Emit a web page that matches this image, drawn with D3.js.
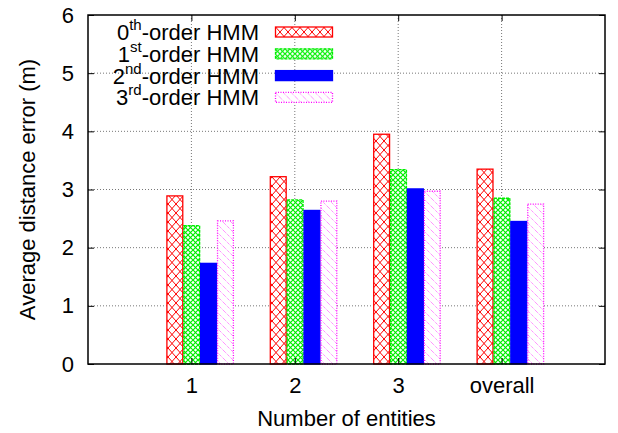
<!DOCTYPE html>
<html>
<head>
<meta charset="utf-8">
<script src="https://cdn.jsdelivr.net/npm/d3@7"></script>
<style>
  body { margin: 0; background: #fff; }
  text { font-family: "Liberation Sans", Arial, sans-serif; fill: #000; }
</style>
</head>
<body>
<div id="chart"></div>
<script>
// data
const categories = ["1", "2", "3", "overall"];
const seriesNames = ["0", "1", "2", "3"];
const seriesSup = ["th", "st", "nd", "rd"];
const order0 = [2.89, 3.22, 3.95, 3.35];
const order1 = [2.38, 2.82, 3.34, 2.85];
const order2 = [1.73, 2.64, 3.01, 2.45];
const order3 = [2.46, 2.80, 2.97, 2.75];
const yTicks = [0, 1, 2, 3, 4, 5, 6];

const allSeries = [order0, order1, order2, order3];

const W = 618, H = 433;
const margin = { top: 15, right: 13, bottom: 69, left: 88 };
const width = W - margin.left - margin.right,
  height = H - margin.top - margin.bottom;
const fs = "22px";

const svg = d3.select("#chart").append("svg")
  .attr("width", W).attr("height", H);

// fill patterns, one per series
const defs = svg.append("defs");
let p = defs.append("pattern").attr("id", "pat0").attr("patternUnits", "userSpaceOnUse")
  .attr("width", 8).attr("height", 9);
p.append("rect").attr("width", 8).attr("height", 9).attr("fill", "#fff");
p.append("path").attr("d", "M0,0L8,9M8,0L0,9").attr("stroke", "#ff0000").attr("stroke-width", 1);

p = defs.append("pattern").attr("id", "pat1").attr("patternUnits", "userSpaceOnUse")
  .attr("width", 5).attr("height", 5);
p.append("rect").attr("width", 5).attr("height", 5).attr("fill", "#fff");
p.append("path").attr("d", "M0,0L5,5M5,0L0,5").attr("stroke", "#00ee00").attr("stroke-width", 1.2);

p = defs.append("pattern").attr("id", "pat3").attr("patternUnits", "userSpaceOnUse")
  .attr("width", 8).attr("height", 8);
p.append("rect").attr("width", 8).attr("height", 8).attr("fill", "#fff");
p.append("path").attr("d", "M0,0L8,8M-1,7L1,9M7,-1L9,1").attr("stroke", "#ff66ff")
  .attr("stroke-width", 1).attr("stroke-dasharray", "1,1");

const fills = ["url(#pat0)", "url(#pat1)", "#0000ff", "url(#pat3)"];
const strokes = ["#ff0000", "#00ee00", "#0000ff", "#ff00ff"];
const dashes = [null, "3,1", null, "1,1.5"];

const g = svg.append("g").attr("transform", `translate(${margin.left},${margin.top})`);

// category positions: gnuplot style xrange [-1:4]
const x = d3.scaleLinear().domain([-1, 4]).range([0, width]);
const y = d3.scaleLinear().domain([0, 6]).range([height, 0]);
// bar slots inside each cluster, relative to the tick
const inner = d3.scaleBand().domain(d3.range(allSeries.length)).range([-25, 42.5]);

// grid
g.append("g").selectAll("line").data(yTicks.slice(1, -1)).enter().append("line")
  .attr("x1", 0).attr("x2", width)
  .attr("y1", d => y(d)).attr("y2", d => y(d))
  .attr("stroke", "#777").attr("stroke-dasharray", "1,2");
g.append("g").selectAll("line").data(categories).enter().append("line")
  .attr("x1", (d, i) => x(i)).attr("x2", (d, i) => x(i))
  .attr("y1", 0).attr("y2", height)
  .attr("stroke", "#777").attr("stroke-dasharray", "1,2");

// bars
allSeries.forEach((vals, s) => {
  g.append("g").selectAll("rect").data(vals).enter().append("rect")
    .attr("x", (d, i) => x(i) + inner(s) + 0.5)
    .attr("y", d => y(d))
    .attr("width", inner.bandwidth() - 1)
    .attr("height", d => y(0) - y(d))
    .attr("fill", fills[s])
    .attr("stroke", strokes[s])
    .attr("stroke-width", 1.3)
    .attr("stroke-dasharray", dashes[s]);
});

// axes with inward ticks, mirrored on all sides
g.append("g").attr("transform", `translate(0,${height})`)
  .call(d3.axisBottom(x).tickValues(d3.range(categories.length)).tickFormat(i => categories[i])
    .tickSize(-6).tickPadding(13).tickSizeOuter(0))
  .call(a => a.select(".domain").remove())
  .selectAll("text").style("font-size", fs);
g.append("g")
  .call(d3.axisTop(x).tickValues(d3.range(categories.length)).tickFormat("").tickSize(-6).tickSizeOuter(0))
  .call(a => a.select(".domain").remove());
g.append("g")
  .call(d3.axisLeft(y).tickValues(yTicks).tickFormat(d3.format("d")).tickSize(-6).tickPadding(14).tickSizeOuter(0))
  .call(a => a.select(".domain").remove())
  .selectAll("text").style("font-size", fs);
g.append("g").attr("transform", `translate(${width},0)`)
  .call(d3.axisRight(y).tickValues(yTicks).tickFormat("").tickSize(-6).tickSizeOuter(0))
  .call(a => a.select(".domain").remove());

g.append("rect").attr("width", width).attr("height", height)
  .attr("fill", "none").attr("stroke", "#000").attr("stroke-width", 1.5);

// axis titles
svg.append("text")
  .attr("transform", `translate(35,${margin.top + height / 2}) rotate(-90)`)
  .attr("text-anchor", "middle").style("font-size", fs)
  .text("Average distance error (m)");
svg.append("text")
  .attr("x", margin.left + width / 2).attr("y", 426)
  .attr("text-anchor", "middle").style("font-size", fs)
  .text("Number of entities");

// legend
const legend = svg.append("g").selectAll("g").data(seriesNames).enter().append("g")
  .attr("transform", (d, i) => `translate(0,${32 + 21.8 * i})`);
const lt = legend.append("text").attr("x", 259).attr("y", 8)
  .attr("text-anchor", "end").style("font-size", fs);
lt.append("tspan").text(d => d);
lt.append("tspan").attr("dy", -10).style("font-size", "15px").text((d, i) => seriesSup[i]);
lt.append("tspan").attr("dy", 10).text("-order HMM");
legend.append("rect")
  .attr("x", 275.5).attr("y", -5).attr("width", 57).attr("height", 10)
  .attr("fill", (d, i) => fills[i])
  .attr("stroke", (d, i) => strokes[i])
  .attr("stroke-width", 1.3)
  .attr("stroke-dasharray", (d, i) => dashes[i]);
</script>
</body>
</html>
